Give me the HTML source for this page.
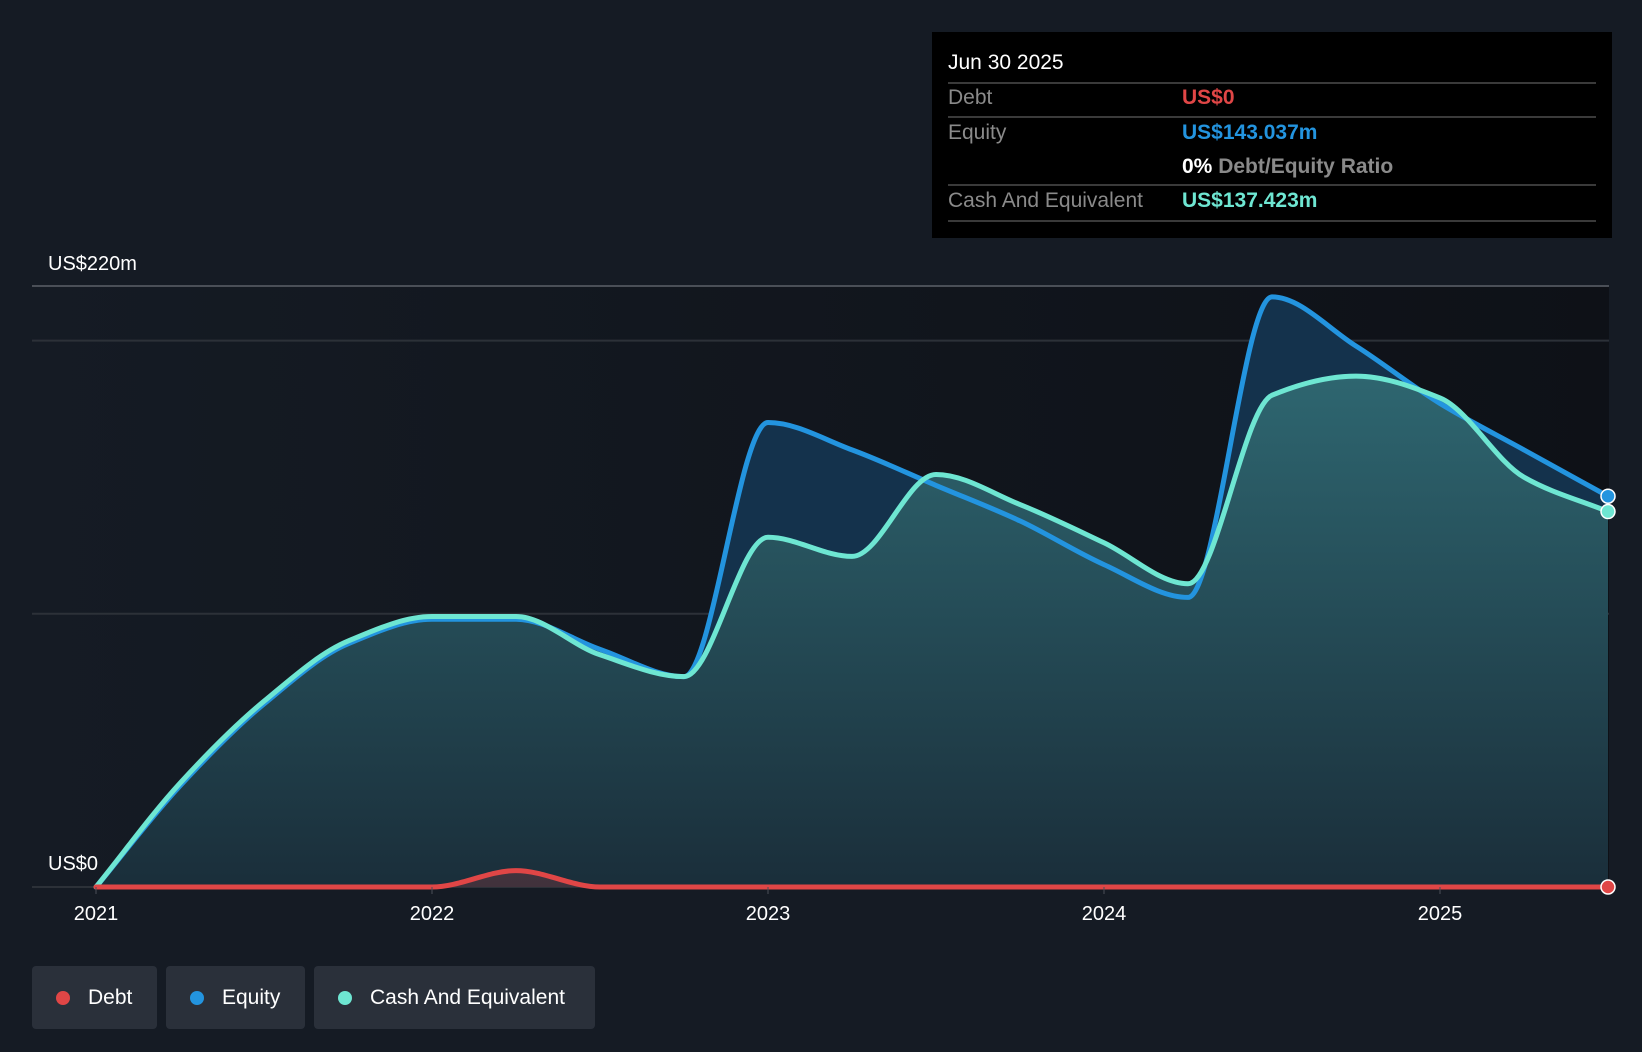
<!DOCTYPE html>
<html><head><meta charset="utf-8"><style>
html,body{margin:0;padding:0;background:#151b24;}
body{width:1642px;height:1052px;position:relative;overflow:hidden;font-family:"Liberation Sans",sans-serif;}
svg{position:absolute;left:0;top:0;}
.tip{position:absolute;left:932px;top:32px;width:680px;height:206px;background:#000;}
.tip .t{position:absolute;color:#fff;font-size:21px;}
.tip .l{position:absolute;left:16px;color:#8a8a8a;font-size:21px;}
.tip .v{position:absolute;left:250px;font-size:21px;font-weight:bold;}
.tip .sep{position:absolute;left:16px;width:648px;height:2px;background:#3a3a3a;}
.leg{position:absolute;top:966px;height:63px;background:#2a303a;border-radius:4px;color:#fff;font-size:21px;line-height:63px;}
.leg i{position:absolute;top:25px;width:14px;height:14px;border-radius:50%;left:24px;}
.leg span{position:absolute;left:56px;}
</style></head><body>
<svg width="1642" height="1052">
<defs>
<linearGradient id="bg" x1="0" x2="1" y1="0" y2="0"><stop offset="0" stop-color="#151b24"/><stop offset="1" stop-color="#0e1117"/></linearGradient>
<linearGradient id="cashFill" x1="0" x2="0" y1="0" y2="1"><stop offset="0" stop-color="#2e6670"/><stop offset="1" stop-color="#1a2e3a"/></linearGradient>
</defs>
<rect x="32" y="286" width="1577" height="601" fill="url(#bg)"/>
<g id="grid"></g>
<g id="areas"></g>
<g id="lines"></g>
<g id="axis"></g>
</svg>
<div class="tip">
<div class="t" style="left:16px;top:19px;">Jun 30 2025</div>
<div class="sep" style="top:50px"></div>
<div class="l" style="top:54px">Debt</div>
<div class="v" style="top:54px;color:#e04646">US$0</div>
<div class="sep" style="top:84px"></div>
<div class="l" style="top:89px">Equity</div>
<div class="v" style="top:89px;color:#2394df">US$143.037m</div>
<div class="v" style="top:123px;color:#8a8a8a"><span style="color:#fff">0%</span> Debt/Equity Ratio</div>
<div class="sep" style="top:152px"></div>
<div class="l" style="top:157px">Cash And Equivalent</div>
<div class="v" style="top:157px;color:#6ee6d2">US$137.423m</div>
<div class="sep" style="top:188px"></div>
</div>
<div class="leg" style="left:32px;width:125px"><i style="background:#e04646"></i><span>Debt</span></div>
<div class="leg" style="left:166px;width:139px"><i style="background:#2394df"></i><span>Equity</span></div>
<div class="leg" style="left:314px;width:281px"><i style="background:#6ee6d2"></i><span>Cash And Equivalent</span></div>
<script>
const dates=[2021,2021.25,2021.5,2021.75,2022,2022.25,2022.5,2022.75,2023,2023.25,2023.5,2023.75,2024,2024.25,2024.5,2024.75,2025,2025.25,2025.5];
const equity=[0,37,67,89,98,98,87,77,170,160,147,134,118,106,216,198,177,160,143.037];
const cash=[0,38,68,90,99,99,85,77,128,121,151,140,126,111,180,187,179,150,137.423];
const debt=[0,0,0,0,0,6,0,0,0,0,0,0,0,0,0,0,0,0,0];
const yTicks=[0,100,200,220];
const xTicks=[2021,2022,2023,2024,2025];
const NS="http://www.w3.org/2000/svg";
const X=d=>96+(d-2021)*336;
const Y=v=>887-v*2.732;
function mono(xs,ys){const n=xs.length,d=[],m=[];for(let i=0;i<n-1;i++)d.push((ys[i+1]-ys[i])/(xs[i+1]-xs[i]));
m[0]=d[0];m[n-1]=d[n-2];for(let i=1;i<n-1;i++){m[i]=d[i-1]*d[i]<=0?0:3*(xs[i+1]-xs[i-1])/((2*xs[i+1]-xs[i]-xs[i-1])/d[i-1]+(xs[i+1]+xs[i]-2*xs[i-1])/d[i]);}
let p="M"+xs[0]+","+ys[0];for(let i=0;i<n-1;i++){const h=(xs[i+1]-xs[i])/3;p+=" C"+(xs[i]+h)+","+(ys[i]+m[i]*h)+" "+(xs[i+1]-h)+","+(ys[i+1]-m[i+1]*h)+" "+xs[i+1]+","+ys[i+1];}return p;}
function el(t,a,parent){const e=document.createElementNS(NS,t);for(const k in a)e.setAttribute(k,a[k]);parent.appendChild(e);return e;}
const grid=document.getElementById('grid'),areas=document.getElementById('areas'),lines=document.getElementById('lines'),ax=document.getElementById('axis');
yTicks.forEach(v=>{const g=el('line',{x1:32,x2:1609,y1:Y(v),y2:Y(v),stroke:v==220?'#4a4f57':'#2c3138','stroke-width':2},grid);

});
const yl1=el('text',{x:48,y:270,fill:'#fff','font-size':20,'font-family':'Liberation Sans'},ax);yl1.textContent='US$220m';


const yl0=el('text',{x:48,y:870,fill:'#fff','font-size':20,'font-family':'Liberation Sans'},ax);yl0.textContent='US$0';


xTicks.forEach(t=>{el('line',{x1:X(t),x2:X(t),y1:887,y2:894,stroke:'#4a4f57','stroke-width':1},ax);
const tx=el('text',{x:X(t),y:920,fill:'#fff','font-size':20,'text-anchor':'middle','font-family':'Liberation Sans'},ax);tx.textContent=t;

});
const xs=dates.map(X);
function series(vals,stroke,fill,name){const ys=vals.map(Y);const p=mono(xs,ys);
const a=el('path',{d:p+" L"+xs[xs.length-1]+",887 L"+xs[0]+",887 Z",fill:fill},areas);


const l=el('path',{d:p,fill:'none',stroke:stroke,'stroke-width':5,'stroke-linecap':'round'},lines);


return ys;}
const ey=series(equity,'#2394df','#14324c','equity');
const cy=series(cash,'#6ee6d2','url(#cashFill)','cash');
const dy=series(debt,'#e04646','rgba(224,70,70,0.2)','debt');
[[ey,'#2394df','equity'],[cy,'#6ee6d2','cash'],[dy,'#e04646','debt']].forEach(([ys,c,n])=>{const d=el('circle',{cx:xs[xs.length-1],cy:ys[ys.length-1],r:7,fill:c,stroke:'#fff','stroke-width':1.5},lines);

});
</script>
</body></html>
